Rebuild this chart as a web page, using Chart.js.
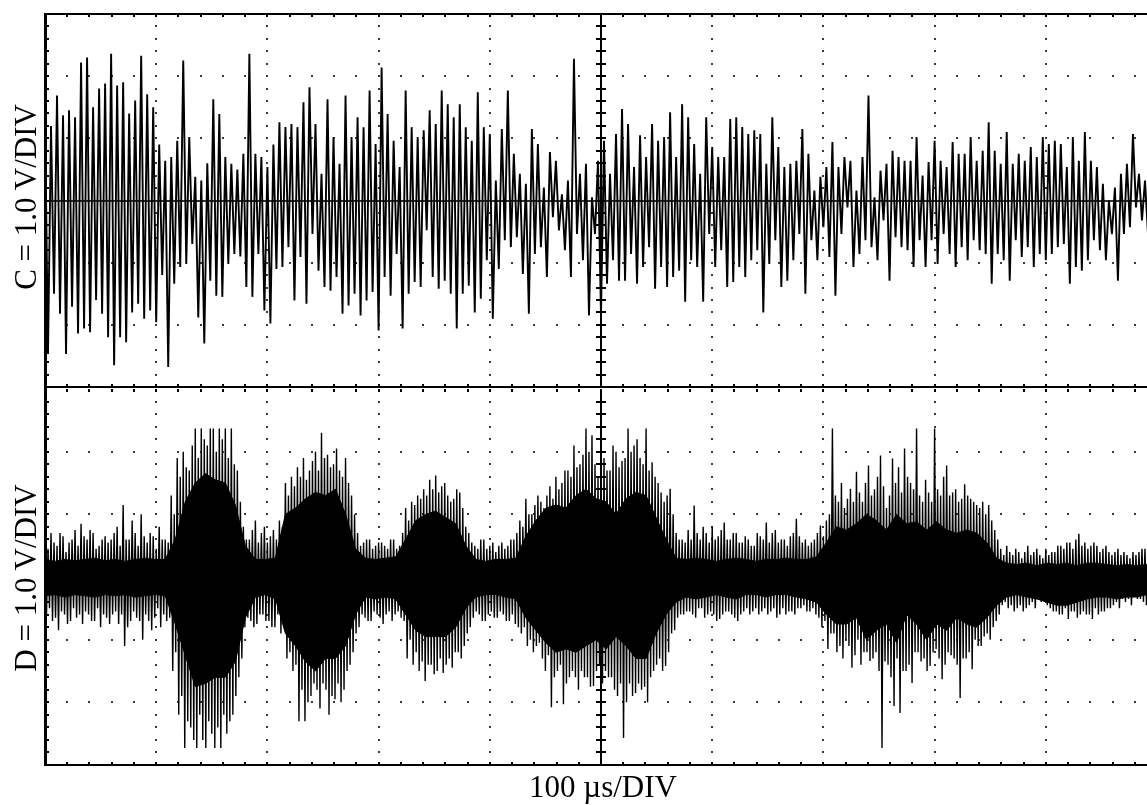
<!DOCTYPE html>
<html>
<head>
<meta charset="utf-8">
<script src="https://cdn.jsdelivr.net/npm/chart.js@4.4.1/dist/chart.umd.min.js"></script>
<style>
  html, body { margin: 0; padding: 0; background: #fff; overflow: hidden; width: 1147px; height: 805px; }
  canvas { position: absolute; left: 0; top: 0; }
  .lbl { position: absolute; font-family: "Liberation Serif", "Times New Roman", serif; font-size: 31px; line-height: 31px; color: #000; white-space: nowrap; transform: translate(-50%, -50%); }
  .rot { transform: translate(-50%, -50%) rotate(-90deg); }
</style>
</head>
<body>
<canvas id="chanC" width="1160" height="805"></canvas>
<canvas id="chanD" width="1160" height="805"></canvas>
<div class="lbl rot" style="left:25px;top:197px">C = 1.0 V/DIV</div>
<div class="lbl rot" style="left:25px;top:578px">D = 1.0 V/DIV</div>
<div class="lbl" style="left:603px;top:786px">100 µs/DIV</div>
<script>
// 10 divisions across, +-3 divisions per channel (1 div = 1 V)
const xDivs = 10;

// Channel C: positive and negative peak of each cycle, left to right (V)
const cTop = [
  1.45,1.2,1.69,1.37,1.45,1.34,2.22,2.30,1.5,1.80,1.88,2.36,1.85,1.90,1.4,1.61,2.33,1.71,1.50,0.9,0.64,0.70,0.96,2.25,1.02,0.38,0.32,0.6,1.63,1.39,0.70,0.59,0.5,0.75,2.36,0.75,0.70,0.54,0.9,1.26,1.18,1.23,
  1.18,1.58,1.82,1.23,0.43,1.63,1.02,0.59,1.69,1.02,1.34,1.18,1.77,0.91,2.14,1.39,0.96,0.54,1.77,1.18,1.02,1.13,1.45,1.23,1.77,1.55,1.34,1.55,1.18,0.96,1.74,1.18,1.07,0.32,1.15,1.77,0.75,0.43,0.27,1.15,0.91,0.21,0.78,0.64,0.1,0.32,2.28,0.43,0.59,
  0.05,0.64,0.96,0.43,1.07,1.47,1.23,0.54,1.05,0.70,1.23,0.96,1.02,1.42,0.70,1.55,1.34,0.91,0.43,1.34,0.86,0.70,0.70,1.31,1.34,1.18,1.07,1.13,1.07,0.59,1.34,0.86,0.54,0.59,0.64,1.15,0.75,0.16,0.38,0.54,0.94,0.54,0.70,0.64,0.16,0.70,1.69,0.05,
  0.48,0.59,0.80,0.70,0.64,0.64,1.02,0.40,0.62,0.96,0.64,0.54,0.94,0.75,0.75,1.02,0.64,0.80,1.26,0.80,0.59,1.10,0.59,0.75,0.64,0.86,0.70,1.02,0.91,0.96,0.91,0.54,1.02,0.64,1.10,0.64,0.54,0.27,0.0,0.21,0.43,0.59,1.07,0.43,0.32,0.0
];
const cBot = [
  -2.47,-1.5,-1.82,-2.47,-1.71,-2.14,-2.06,-2.12,-1.6,-1.82,-2.20,-2.65,-2.20,-2.28,-1.8,-1.66,-1.90,-1.77,-1.96,-1.2,-2.68,-1.34,-1.07,-1.02,-0.7,-1.88,-2.30,-1.29,-1.53,-1.55,-1.02,-0.86,-0.9,-1.39,-1.55,-0.86,-1.77,-1.98,-1.1,-1.07,-0.75,-1.61,
  -0.91,-1.66,-0.54,-1.13,-1.39,-1.45,-1.23,-1.82,-1.69,-1.50,-1.85,-1.61,-1.47,-2.09,-1.23,-1.53,-0.86,-2.06,-1.50,-1.31,-1.39,-0.48,-1.23,-1.42,-1.29,-1.50,-2.06,-1.50,-1.37,-1.80,-1.58,-0.96,-1.90,-1.10,-0.64,-0.75,-0.59,-1.18,-1.82,-0.86,-0.75,-1.23,-0.27,-0.48,-0.80,-1.23,-0.54,-0.96,-1.85,
  -0.54,-1.85,-1.34,-0.96,-1.29,-1.29,-0.86,-1.34,-1.07,-0.75,-1.42,-1.07,-1.39,-1.23,-1.13,-1.63,-0.96,-1.07,-1.63,-0.54,-1.07,-0.80,-1.39,-1.31,-1.07,-1.23,-0.96,-0.80,-1.80,-1.02,-0.64,-1.39,-1.29,-0.96,-0.54,-1.50,-0.64,-0.96,-0.43,-0.91,-1.53,-0.54,-0.11,-1.07,-0.86,-0.64,-0.75,-0.96,
  -0.32,-1.29,-0.59,-0.75,-0.80,-1.07,-0.64,-1.07,-0.64,-1.02,-0.54,-0.86,-1.07,-0.75,-0.96,-0.64,-0.80,-0.86,-1.34,-0.86,-0.96,-1.29,-0.64,-0.91,-0.75,-1.07,-0.86,-0.96,-0.86,-0.75,-0.70,-1.34,-1.07,-1.13,-0.96,-0.64,-0.80,-0.96,-0.54,-1.29,-0.54,-0.43,-0.11,-0.32,-0.54,-1.34
];

// Channel D: tips of the outer spikes (V)
const dTipUp = [
  0.6,0.7,0.5,0.65,0.55,0.75,0.85,0.6,0.7,0.5,0.65,0.6,0.8,1.15,0.6,0.7,1.0,0.55,0.65,0.8,0.6,
  1.3,1.9,2.0,1.7,2.37,2.37,2.1,2.37,2.37,2.37,2.37,1.7,
  0.8,0.6,0.9,0.7,0.55,0.75,0.9,
  1.5,1.6,1.75,1.9,1.7,2.0,2.3,1.95,1.8,1.7,1.9,1.3,
  0.7,0.55,0.6,0.5,0.55,0.45,0.6,0.5,
  1.1,1.2,1.3,1.4,1.55,1.62,1.45,1.3,1.25,1.35,0.8,
  0.55,0.45,0.6,0.5,0.4,0.55,0.5,0.6,
  0.9,1.25,1.0,1.3,1.1,1.45,1.6,1.5,1.7,2.1,1.8,2.37,2.26,1.6,1.9,1.7,2.0,1.85,2.37,2.1,1.9,2.37,1.83,1.5,1.2,1.41,0.7,
  0.6,0.75,1.14,0.6,0.7,0.8,0.65,0.87,0.6,0.7,0.55,0.6,0.5,0.65,0.87,0.7,0.55,0.6,0.65,0.93,0.55,0.5,0.6,0.82,
  0.9,2.37,1.2,1.1,1.41,1.68,1.2,1.78,1.4,1.94,1.1,1.89,1.75,2.05,1.5,2.37,1.2,1.35,2.37,1.3,1.78,1.35,1.2,1.48,1.25,1.15,1.2,1.15,0.75,
  0.45,0.5,0.35,0.4,0.4,0.35,0.45,0.3,0.35,0.4,0.5,0.55,0.45,0.69,0.55,0.5,0.5,0.45,0.4,0.4,0.35,0.35,0.4,0.4,0.45,0.4
];
const dTipDn = [
  -0.6,-0.7,-0.85,-0.6,-0.7,-0.65,-0.75,-0.6,-0.7,-0.8,-0.65,-0.6,-0.75,-1.1,-0.7,-0.65,-1.0,-0.7,-0.65,-0.8,-0.7,
  -1.5,-2.2,-2.73,-2.4,-2.73,-2.6,-2.3,-2.73,-2.73,-2.5,-2.2,-1.6,
  -0.8,-0.7,-0.75,-0.6,-0.7,-0.8,-0.9,
  -1.3,-1.5,-2.3,-2.3,-1.9,-1.8,-1.7,-2.2,-1.95,-2.0,-1.5,-1.2,
  -0.8,-0.65,-0.7,-0.6,-0.75,-0.55,-0.6,-0.65,
  -1.3,-1.4,-1.5,-1.66,-1.4,-1.5,-1.53,-1.3,-1.2,-1.3,-0.9,
  -0.65,-0.6,-0.7,-0.55,-0.65,-0.6,-0.7,-0.75,
  -0.9,-1.1,-1.2,-1.05,-1.5,-2.08,-1.5,-2.03,-1.6,-1.6,-1.5,-1.6,-1.74,-1.4,-1.5,-1.6,-1.9,-2.57,-1.7,-1.85,-1.8,-2.0,-1.5,-1.3,-1.42,-0.9,-0.65,
  -0.6,-0.55,-0.65,-0.5,-0.6,-0.6,-0.67,-0.55,-0.6,-0.7,-0.55,-0.6,-0.5,-0.55,-0.6,-0.5,-0.6,-0.6,-0.55,-0.5,-0.45,-0.55,-0.6,-0.8,
  -1.15,-0.9,-1.1,-1.0,-1.45,-1.0,-1.2,-1.34,-1.2,-2.73,-1.4,-2.06,-2.17,-1.5,-1.69,-1.2,-1.3,-1.42,-1.15,-1.63,-1.2,-1.3,-1.93,-1.3,-1.47,-1.1,-0.95,-1.0,-0.7,
  -0.45,-0.5,-0.55,-0.45,-0.5,-0.4,-0.35,-0.4,-0.5,-0.55,-0.6,-0.67,-0.55,-0.6,-0.6,-0.67,-0.6,-0.55,-0.5,-0.4,-0.35,-0.35,-0.3,-0.35,-0.45,-0.4
];
// Channel D: tips of the spikes in between (V)
const dMidUp = [
  0.45,0.55,0.7,0.4,0.6,0.5,0.65,0.75,0.45,0.6,0.55,0.7,0.5,0.6,0.9,0.5,0.65,0.7,0.45,0.6,0.55,
  1.0,1.6,1.75,2.1,1.9,2.2,2.37,2.0,2.2,1.9,1.8,1.2,
  0.6,0.75,0.55,0.8,0.65,0.6,0.8,
  1.3,1.45,1.6,1.55,1.85,1.7,1.9,1.75,2.05,1.6,1.5,1.0,
  0.5,0.6,0.45,0.55,0.5,0.6,0.45,0.7,
  0.9,1.15,1.25,1.3,1.4,1.35,1.5,1.2,1.4,1.1,0.7,
  0.5,0.6,0.45,0.55,0.5,0.45,0.6,0.7,
  0.8,1.0,1.15,1.2,1.3,1.25,1.4,1.7,1.6,1.75,1.95,2.0,1.8,1.9,1.7,2.1,1.75,1.9,2.0,2.2,1.8,1.7,1.6,1.35,1.3,1.0,0.6,
  0.55,0.6,0.7,0.8,0.55,0.6,0.75,0.6,0.7,0.55,0.65,0.5,0.7,0.6,0.55,0.75,0.6,0.5,0.7,0.65,0.6,0.55,0.7,0.65,
  1.0,1.3,1.5,1.25,1.2,1.35,1.5,1.3,1.6,1.45,1.3,1.5,1.35,1.6,1.4,1.3,1.55,1.2,1.4,1.6,1.3,1.4,1.25,1.3,1.2,1.1,1.0,0.9,0.6,
  0.35,0.4,0.45,0.3,0.5,0.4,0.35,0.45,0.4,0.5,0.45,0.55,0.6,0.5,0.45,0.55,0.4,0.5,0.35,0.45,0.4,0.3,0.35,0.45,0.4,0.35
];
const dMidDn = [
  -0.5,-0.65,-0.55,-0.75,-0.5,-0.6,-0.55,-0.7,-0.5,-0.6,-0.75,-0.55,-0.6,-0.8,-0.55,-0.7,-0.6,-0.85,-0.5,-0.6,-0.65,
  -1.2,-1.9,-2.3,-2.6,-2.2,-2.73,-2.5,-2.4,-2.2,-2.3,-1.9,-1.3,
  -0.65,-0.8,-0.6,-0.7,-0.8,-0.6,-0.75,
  -1.2,-1.4,-1.8,-2.0,-1.7,-2.1,-1.8,-1.9,-1.7,-1.8,-1.4,-0.9,
  -0.6,-0.7,-0.55,-0.65,-0.6,-0.7,-0.55,-0.7,
  -1.0,-1.2,-1.35,-1.4,-1.55,-1.3,-1.4,-1.45,-1.2,-1.1,-0.8,
  -0.55,-0.7,-0.6,-0.65,-0.55,-0.7,-0.6,-0.8,
  -0.8,-1.0,-1.1,-1.3,-1.25,-1.6,-1.4,-1.7,-1.5,-1.8,-1.6,-1.75,-1.5,-1.7,-1.6,-1.8,-1.7,-2.0,-1.9,-1.7,-1.75,-1.6,-1.4,-1.5,-1.2,-0.85,-0.6,
  -0.55,-0.6,-0.5,-0.65,-0.55,-0.7,-0.6,-0.55,-0.65,-0.6,-0.5,-0.55,-0.6,-0.5,-0.55,-0.65,-0.5,-0.55,-0.6,-0.5,-0.55,-0.5,-0.65,-0.7,
  -0.9,-1.2,-1.3,-1.1,-1.25,-1.4,-1.2,-1.3,-1.5,-1.35,-1.6,-1.3,-1.5,-1.4,-1.2,-1.35,-1.5,-1.2,-1.3,-1.4,-1.25,-1.4,-1.3,-1.2,-1.0,-1.1,-0.9,-0.8,-0.6,
  -0.4,-0.45,-0.5,-0.55,-0.45,-0.5,-0.4,-0.45,-0.55,-0.6,-0.5,-0.55,-0.65,-0.55,-0.6,-0.5,-0.55,-0.5,-0.45,-0.5,-0.4,-0.45,-0.35,-0.4,-0.35,-0.45
];

// Channel D: edges of the solid black band, every 0.09 div (V)
const dCoreUp = [
  0.28,0.25,0.28,0.26,0.28,0.3,0.26,0.28,0.25,0.28,0.3,0.28,0.28,
  0.6,1.2,1.5,1.65,1.55,1.5,1.15,0.5,
  0.28,0.28,0.3,
  1.0,1.1,1.25,1.35,1.3,1.4,1.0,0.45,
  0.3,0.28,0.3,0.32,
  0.6,0.9,1.0,1.05,0.95,0.85,0.5,
  0.28,0.25,0.28,0.28,0.3,
  0.65,0.9,1.1,1.15,1.1,1.3,1.4,1.25,1.2,1.0,1.25,1.35,1.3,0.95,0.6,0.3,
  0.28,0.3,0.28,0.25,0.28,0.3,0.28,0.25,0.28,0.28,0.3,0.28,0.28,0.32,
  0.55,0.8,0.75,0.85,1.0,0.9,
  0.75,1.0,0.85,0.88,0.75,0.88,0.75,0.7,0.75,0.7,0.55,0.3,
  0.22,0.2,0.22,0.18,0.22,0.2,0.22,0.18,0.22,0.22,0.2,0.18,0.2,0.18,0.2,0.18
];
const dCoreDn = [
  -0.3,-0.28,-0.32,-0.28,-0.3,-0.32,-0.28,-0.3,-0.28,-0.32,-0.3,-0.28,-0.3,
  -0.75,-1.25,-1.75,-1.7,-1.6,-1.6,-1.35,-0.65,
  -0.32,-0.28,-0.35,
  -0.9,-1.1,-1.35,-1.5,-1.3,-1.3,-1.1,-0.6,
  -0.32,-0.35,-0.32,-0.35,
  -0.6,-0.85,-0.95,-0.95,-0.95,-0.8,-0.5,
  -0.32,-0.28,-0.28,-0.32,-0.35,
  -0.65,-0.85,-1.05,-1.2,-1.15,-1.2,-1.1,-1.0,-1.15,-0.95,-1.1,-1.3,-1.3,-0.9,-0.6,-0.4,
  -0.32,-0.35,-0.32,-0.28,-0.32,-0.35,-0.28,-0.28,-0.32,-0.28,-0.28,-0.32,-0.35,-0.4,
  -0.6,-0.75,-0.75,-0.65,-1.0,-0.85,
  -0.75,-1.05,-0.6,-0.75,-1.0,-0.75,-0.85,-0.65,-0.75,-0.8,-0.65,-0.45,
  -0.32,-0.28,-0.32,-0.35,-0.4,-0.45,-0.45,-0.4,-0.35,-0.32,-0.32,-0.35,-0.32,-0.32,-0.28,-0.32
];

// alternate positive and negative peaks; extra peak sets fall in between
function zigzag(sets) {
  const n = sets[0].length;
  const step = xDivs / n;
  const pts = [];
  for (let i = 0; i < n; i++) {
    sets.forEach((s, j) => {
      pts.push({ x: (i + j / sets.length) * step, y: s[i] });
    });
  }
  return pts;
}

function band(vals) {
  const step = xDivs / (vals.length - 1);
  return vals.map((v, i) => ({ x: i * step, y: v }));
}

// scope graticule: dotted divisions, centre cross with ticks, frame
const graticule = {
  id: 'graticule',
  beforeDatasetsDraw(chart) {
    const { ctx, chartArea: a, scales: { x, y } } = chart;
    ctx.save();
    ctx.fillStyle = '#3a3a3a';
    for (let d = 1; d < 10; d++) {
      if (d === 5) continue;
      const px = Math.round(x.getPixelForValue(d));
      for (let s = -14; s <= 14; s++) {
        ctx.fillRect(px - 1, Math.round(y.getPixelForValue(s / 5)) - 1, 2, 2);
      }
    }
    for (const v of [-2, -1, 1, 2]) {
      const py = Math.round(y.getPixelForValue(v));
      for (let s = 1; s < 50; s++) {
        ctx.fillRect(Math.round(x.getPixelForValue(s / 5)) - 1, py - 1, 2, 2);
      }
    }
    // zero line
    ctx.fillStyle = '#333';
    ctx.fillRect(a.left, Math.round(y.getPixelForValue(0)) - 1, a.right - a.left, 2);
    ctx.restore();
  },
  afterDatasetsDraw(chart, args, opts) {
    const { ctx, chartArea: a, scales: { x, y } } = chart;
    ctx.save();
    ctx.fillStyle = '#000';
    // centre vertical with cross ticks
    const cx = Math.round(x.getPixelForValue(5));
    ctx.fillRect(cx - 1, a.top, 2, a.bottom - a.top);
    for (let s = -14; s <= 14; s++) {
      ctx.fillRect(cx - 5, Math.round(y.getPixelForValue(s / 5)) - 1, 10, 2);
    }
    // frame
    ctx.fillRect(a.left - 1, a.top - 1, 3, a.bottom - a.top + 2);
    if (opts.topEdge) ctx.fillRect(a.left, a.top - 1, a.right - a.left, 2);
    ctx.fillRect(a.left, a.bottom - 1, a.right - a.left, 2);
    // minor ticks along the frame
    for (let s = 1; s < 50; s++) {
      const px = Math.round(x.getPixelForValue(s / 5));
      ctx.fillRect(px - 1, a.top, 2, 3);
      ctx.fillRect(px - 1, a.bottom - 3, 2, 3);
    }
    for (let s = -14; s <= 14; s++) {
      ctx.fillRect(a.left, Math.round(y.getPixelForValue(s / 5)) - 1, 4, 2);
    }
    ctx.restore();
  }
};

function scope(id, pad, datasets, topEdge) {
  return new Chart(document.getElementById(id), {
    type: 'line',
    data: { datasets: datasets },
    options: {
      responsive: false,
      animation: false,
      events: [],
      layout: { padding: pad },
      elements: { point: { radius: 0 }, line: { tension: 0 } },
      scales: {
        x: { type: 'linear', min: 0, max: xDivs, display: false },
        y: { type: 'linear', min: -3, max: 3, display: false }
      },
      plugins: {
        legend: { display: false },
        tooltip: { enabled: false },
        graticule: { topEdge: topEdge }
      }
    },
    plugins: [graticule]
  });
}

scope('chanC', { left: 45, right: 3, top: 14, bottom: 418 }, [
  { data: zigzag([cTop, cBot]), borderColor: '#000', borderWidth: 1.9 }
], true);

scope('chanD', { left: 45, right: 3, top: 389, bottom: 40 }, [
  { data: zigzag([dTipUp, dTipDn, dMidUp, dMidDn]), borderColor: '#000', borderWidth: 1.4 },
  { data: band(dCoreUp), borderColor: '#000', borderWidth: 1, backgroundColor: '#000', fill: '+1' },
  { data: band(dCoreDn), borderColor: '#000', borderWidth: 1 }
], false);
</script>
</body>
</html>
